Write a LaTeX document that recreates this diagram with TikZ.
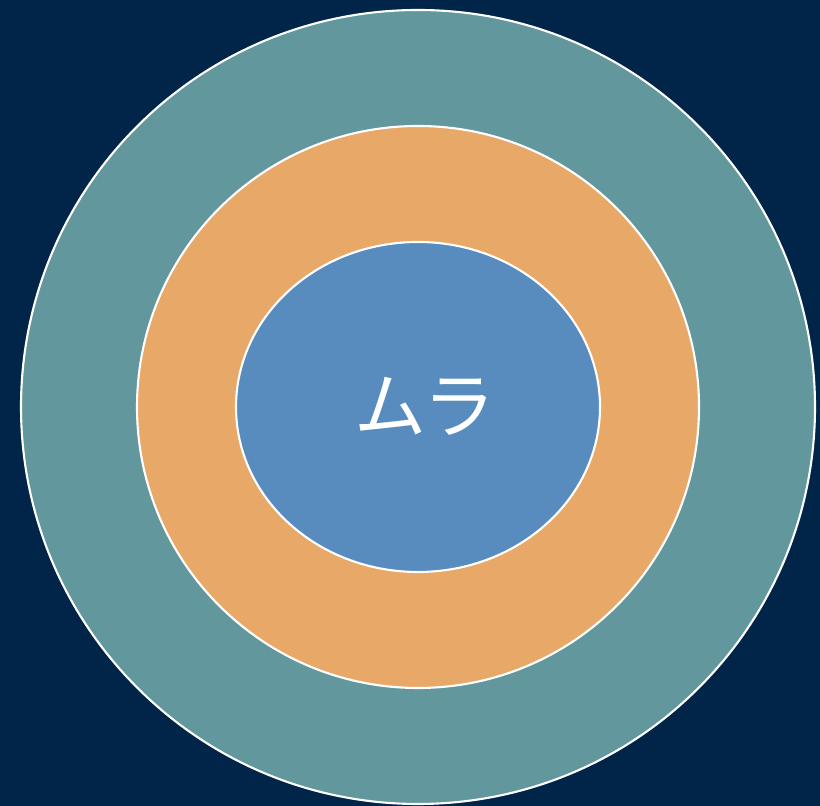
\documentclass[tikz,border=0pt]{standalone}
\usepackage{fontspec}
\newfontfamily\cjk{Noto Sans CJK JP}
\usetikzlibrary{shapes.geometric}
\definecolor{BgNavy}{HTML}{002548}
\definecolor{RingTeal}{HTML}{62979E}
\definecolor{RingOrange}{HTML}{E8A968}
\definecolor{CoreBlue}{HTML}{588CBE}

\begin{document}
\begin{tikzpicture}[line width=0.6pt,draw=white]
\fill[BgNavy] (0,0) rectangle (8.2,8.06);
\useasboundingbox (0,0) rectangle (8.2,8.06);
\node[circle,draw=white,fill=RingTeal,minimum size=7.94cm,inner sep=0pt] (outer) at (4.18,3.99) {};
\node[circle,draw=white,fill=RingOrange,minimum size=5.62cm,inner sep=0pt] (middle) at (outer.center) {};
\node[ellipse,draw=white,fill=CoreBlue,minimum width=3.64cm,minimum height=3.30cm,inner sep=0pt] (core) at (outer.center) {};
\node[text=white,font=\cjk\fontsize{20.5}{24}\selectfont] (mura) at (4.25,4.0) {ムラ};
\end{tikzpicture}
\end{document}
